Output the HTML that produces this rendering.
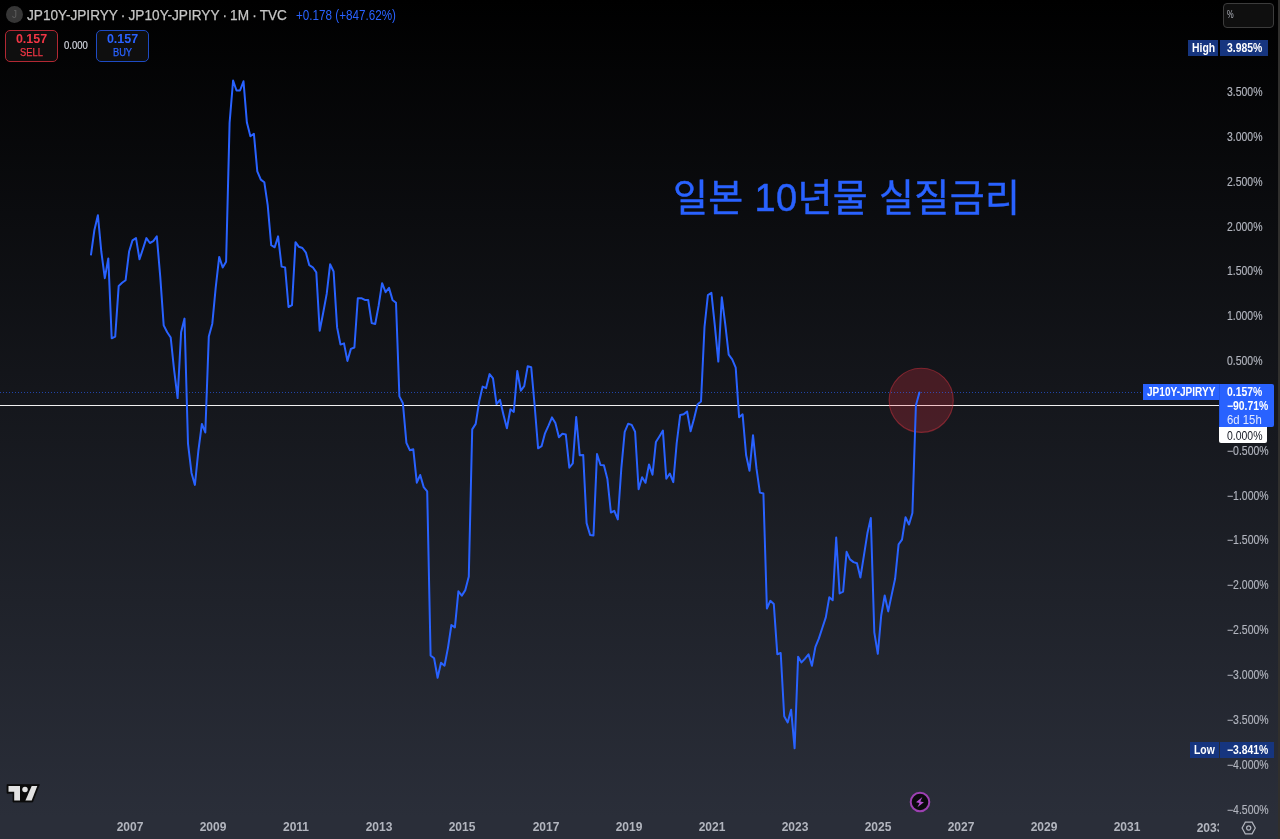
<!DOCTYPE html>
<html lang="ko">
<head>
<meta charset="utf-8">
<title>JP10Y-JPIRYY · 1M · TVC</title>
<style>
html,body{margin:0;padding:0;}
body{width:1280px;height:839px;overflow:hidden;background:#2a2e39;font-family:"Liberation Sans","Noto Sans CJK KR",sans-serif;}
#chart{position:relative;width:1280px;height:839px;overflow:hidden;background:linear-gradient(to bottom,#000000 0px,#2a2e39 816px,#2a2e39 839px);}
#chart svg{position:absolute;left:0;top:0;}
.abs{position:absolute;white-space:nowrap;line-height:1;}
.strip{left:1278px;top:0;width:2px;height:839px;background:#302f2d;}
/* legend */
.sym-ico{left:6px;top:6px;width:17px;height:17px;border-radius:50%;background:#363636;color:#5e5e5e;font-size:10px;line-height:17px;text-align:center;}
.ttl{left:27px;top:7px;font-size:15px;line-height:15px;color:#c6c6c6;transform-origin:0 50%;transform:scaleX(0.909);word-spacing:-0.7px;-webkit-text-stroke:0.25px #c6c6c6;}
.chg{left:296px;top:7.5px;font-size:14px;line-height:14px;color:#2962ff;transform-origin:0 50%;transform:scaleX(0.834);}
.btn{top:30px;width:51px;height:30px;border-radius:5px;border:1px solid;background:#0f0f0f;text-align:center;}
.btn b{display:block;font-size:12px;line-height:12px;margin-top:2px;font-weight:bold;transform:scaleX(1.04);}
.btn span{display:block;font-size:10px;line-height:10px;margin-top:3px;transform:scaleX(0.93);-webkit-text-stroke:0.25px currentColor;}
.sell{left:5px;border-color:#b22833;color:#f23645;}
.buy{left:96px;border-color:#1e4bc4;color:#2962ff;}
.spread{left:64px;top:41px;font-size:10px;line-height:10px;color:#d1d4dc;transform-origin:0 50%;transform:scaleX(0.95);-webkit-text-stroke:0.2px #d1d4dc;}
/* axis */
.pbox{left:1223px;top:3px;width:49px;height:23px;border:1px solid #3c3c3c;border-radius:4px;background:#0f0f0f;}
.pbox span{position:absolute;left:3px;top:5px;font-size:11px;line-height:11px;color:#b2b5be;transform-origin:0 50%;transform:scaleX(0.68);}
.pl{left:1227px;font-size:12px;line-height:12px;color:#b2b5be;-webkit-text-stroke:0.15px #b2b5be;transform-origin:0 50%;transform:scaleX(0.872);}
.tl{top:821px;width:60px;margin-left:-29px;text-align:center;font-size:12px;line-height:12px;color:#b2b5be;font-weight:bold;}
.tl span{display:inline-block;transform:scaleX(1.0);}
.tag{height:16px;font-size:12px;line-height:16px;color:#fff;font-weight:bold;overflow:hidden;}
.tag span{display:inline-block;transform-origin:0 50%;transform:scaleX(0.865);}
.hl{background:#16357f;}
.cur{background:#2962ff;}
.title{left:673px;top:178px;font-size:38px;line-height:40px;letter-spacing:0.35px;-webkit-text-stroke:0.45px #2962ff;color:#2962ff;font-family:"Liberation Sans","Noto Sans CJK KR",sans-serif;}
</style>
</head>
<body>
<div id="chart">
<svg width="1280" height="839" viewBox="0 0 1280 839">
  <rect x="0" y="405" width="1219" height="1" fill="#f0f0f0"/>
  <circle cx="921.2" cy="400.3" r="32.1" fill="rgba(242,54,69,0.23)" stroke="rgba(242,54,69,0.42)" stroke-width="1.1"/>
  <line x1="0" y1="392.5" x2="1143" y2="392.5" stroke="#2962ff" stroke-width="1" stroke-dasharray="1 2" opacity="0.62"/>
  <polyline fill="none" stroke="#2962ff" stroke-width="2" stroke-linejoin="round" stroke-linecap="round" points="91.0,254.6 94.4,230.0 97.9,215.3 101.3,251.5 104.8,278.2 108.3,258.4 111.7,338.3 115.2,336.6 118.7,285.9 122.1,282.8 125.6,280.2 129.1,251.5 132.5,240.4 136.0,238.1 139.5,259.3 142.9,249.0 146.4,238.1 149.9,243.0 153.3,241.2 156.8,236.4 160.3,277.3 163.7,325.4 167.2,332.3 170.7,337.5 174.1,369.8 177.6,398.1 181.1,332.3 184.5,318.6 188.0,443.7 191.5,472.9 194.9,484.9 198.4,450.5 201.9,423.9 205.3,432.5 208.8,336.6 212.3,323.7 215.7,287.6 219.2,256.9 222.7,267.5 226.1,261.7 229.6,122.6 233.1,80.5 236.5,90.5 240.0,90.5 243.5,81.3 246.9,122.6 250.4,136.3 253.9,133.8 257.3,171.4 260.8,179.6 264.3,182.2 267.7,205.2 271.2,245.1 274.7,247.3 278.1,236.4 281.6,266.6 285.1,267.4 288.5,307.0 292.0,305.1 295.5,242.2 298.9,246.8 302.4,248.0 305.9,252.6 309.3,265.2 312.8,267.3 316.3,272.4 319.7,330.8 323.2,312.8 326.7,293.9 330.1,264.3 333.6,271.5 337.1,327.4 340.5,344.6 344.0,343.4 347.4,360.9 350.9,348.9 354.4,347.5 357.8,298.2 361.3,298.2 364.8,299.9 368.2,299.9 371.7,323.1 375.2,324.0 378.6,305.9 382.1,283.2 385.6,292.2 389.0,287.9 392.5,299.9 396.0,302.8 399.4,396.4 402.9,403.3 406.4,442.8 409.8,450.2 413.3,449.3 416.8,482.7 420.2,475.0 423.7,487.1 427.2,491.4 430.6,655.4 434.1,658.3 437.6,677.7 441.0,662.7 444.5,665.7 448.0,647.6 451.4,625.0 454.9,627.4 458.4,591.3 461.8,595.6 465.3,590.1 468.8,576.4 472.2,429.4 475.7,423.9 479.2,401.5 482.6,386.6 486.1,388.1 489.6,374.1 493.0,378.4 496.5,404.1 500.0,399.8 503.4,414.4 506.9,428.2 510.4,409.3 513.8,411.9 517.3,371.0 520.8,390.7 524.2,386.1 527.7,366.3 531.2,367.2 534.6,405.0 538.1,448.3 541.6,446.2 545.0,433.3 548.5,425.6 552.0,417.4 555.4,423.0 558.9,437.3 562.4,433.8 565.8,434.5 569.3,467.7 572.8,463.4 576.2,417.0 579.7,455.2 583.2,454.9 586.6,523.1 590.1,535.0 593.5,535.4 597.0,454.0 600.5,465.0 603.9,465.3 607.4,479.0 610.9,512.5 614.3,510.8 617.8,519.4 621.3,468.7 624.7,431.8 628.2,423.7 631.7,424.9 635.1,431.8 638.6,489.3 642.1,477.3 645.5,482.8 649.0,464.4 652.5,474.7 655.9,442.1 659.4,436.4 662.9,430.6 666.3,478.7 669.8,473.5 673.3,482.1 676.7,443.0 680.2,415.0 683.7,414.3 687.1,411.5 690.6,431.3 694.1,418.6 697.5,404.6 701.0,401.5 704.5,327.0 707.9,295.1 711.4,292.9 714.9,326.4 718.3,361.6 721.8,297.2 725.3,324.7 728.7,354.7 732.2,359.4 735.7,367.6 739.1,417.3 742.6,414.3 746.1,455.0 749.5,470.8 753.0,435.2 756.5,468.7 759.9,492.6 763.4,493.5 766.9,608.5 770.3,600.8 773.8,604.1 777.3,654.3 780.7,653.0 784.2,716.2 787.7,722.5 791.1,709.7 794.6,748.3 798.1,656.7 801.5,662.4 805.0,658.6 808.5,654.3 811.9,665.8 815.4,646.9 818.9,638.4 822.3,628.0 825.8,617.4 829.3,597.2 832.7,600.3 836.2,537.6 839.6,593.4 843.1,591.7 846.6,551.8 850.0,559.4 853.5,562.1 857.0,563.3 860.4,577.6 863.9,555.6 867.4,533.3 870.8,518.1 874.3,632.3 877.8,653.8 881.2,615.5 884.7,595.5 888.2,611.4 891.6,595.1 895.1,578.8 898.6,544.4 902.0,539.6 905.5,517.3 909.0,524.5 912.4,513.0 915.9,405.4 919.4,392.4"/>
  <!-- TradingView logo -->
  <g>
    <path d="M7 784.6 H39.4 L32.6 802 H13 V793.2 H7 Z" fill="#0b0b0b" stroke="#0b0b0b" stroke-width="0.8" stroke-linejoin="round"/>
    <path d="M8.5 786 H20 V800.4 H14.2 V791.7 H8.5 Z" fill="#e2e2e2"/>
    <circle cx="25" cy="789.4" r="2.75" fill="#e2e2e2"/>
    <path d="M31.7 786 H37.3 L31.7 800.4 H25.4 Z" fill="#e2e2e2"/>
  </g>
  <!-- flash icon -->
  <g transform="translate(920,802)">
    <circle r="9.3" fill="#0a0a0c" stroke="#9d40b2" stroke-width="2"/>
    <path d="M2.4 -5.1 L-4 0.3 L-0.5 0.9 L-2.6 5.2 L3.9 0.3 L0.3 -0.6 Z" fill="#b550d0"/>
  </g>
  <!-- settings hexagon -->
  <g transform="translate(1248.7,828)" fill="none" stroke="#b2b5be" stroke-width="1.2">
    <path d="M-6.6 0 L-3.4 -5.8 H3.4 L6.6 0 L3.4 5.8 H-3.4 Z"/>
    <circle r="2.1"/>
  </g>
</svg>
<div class="abs strip"></div>

<div class="abs sym-ico">J</div>
<div class="abs ttl">JP10Y-JPIRYY · JP10Y-JPIRYY · 1M · TVC</div>
<div class="abs chg">+0.178 (+847.62%)</div>
<div class="abs btn sell"><b>0.157</b><span>SELL</span></div>
<div class="abs spread">0.000</div>
<div class="abs btn buy"><b>0.157</b><span>BUY</span></div>

<div class="abs pbox"><span>%</span></div>

<div class="abs tag hl" style="left:1188px;top:40px;width:30px;"><span style="margin-left:4px">High</span></div>
<div class="abs tag hl" style="left:1220px;top:40px;width:48px;"><span style="margin-left:7px">3.985%</span></div>

<div class="abs pl" style="top:86.0px">3.500%</div>
<div class="abs pl" style="top:130.8px">3.000%</div>
<div class="abs pl" style="top:175.7px">2.500%</div>
<div class="abs pl" style="top:220.5px">2.000%</div>
<div class="abs pl" style="top:265.4px">1.500%</div>
<div class="abs pl" style="top:310.2px">1.000%</div>
<div class="abs pl" style="top:355.1px">0.500%</div>
<div class="abs pl" style="top:444.8px">−0.500%</div>
<div class="abs pl" style="top:489.6px">−1.000%</div>
<div class="abs pl" style="top:534.4px">−1.500%</div>
<div class="abs pl" style="top:579.3px">−2.000%</div>
<div class="abs pl" style="top:624.1px">−2.500%</div>
<div class="abs pl" style="top:669.0px">−3.000%</div>
<div class="abs pl" style="top:713.9px">−3.500%</div>
<div class="abs pl" style="top:758.7px">−4.000%</div>
<div class="abs pl" style="top:803.6px">−4.500%</div>

<div class="abs tag cur" style="left:1143px;top:384px;width:76px;"><span style="margin-left:4px;transform:scaleX(0.838)">JP10Y-JPIRYY</span></div>
<div class="abs cur" style="left:1219px;top:384px;width:55px;height:43px;border-radius:0 2px 2px 0;box-shadow:inset 1px 0 0 #2257e6;"></div>
<div class="abs tag" style="left:1227px;top:384px;"><span>0.157%</span></div>
<div class="abs tag" style="left:1227px;top:398px;"><span>−90.71%</span></div>
<div class="abs tag" style="left:1227px;top:411.5px;font-weight:normal;color:#e3e9ff"><span style="transform:scaleX(0.945)">6d 15h</span></div>
<div class="abs tag" style="left:1219px;top:427px;width:48px;height:16.3px;line-height:18.5px;background:#fff;color:#131722;font-weight:normal;font-size:12px;border-radius:0 0 2px 2px;"><span style="margin-left:8px;transform:scaleX(0.872)">0.000%</span></div>

<div class="abs tag hl" style="left:1190px;top:742px;width:29px;"><span style="margin-left:4px">Low</span></div>
<div class="abs tag hl" style="left:1220px;top:742px;width:54px;"><span style="margin-left:7px">−3.841%</span></div>

<div class="abs tl" style="left:129px"><span>2007</span></div>
<div class="abs tl" style="left:212px"><span>2009</span></div>
<div class="abs tl" style="left:295px"><span>2011</span></div>
<div class="abs tl" style="left:378px"><span>2013</span></div>
<div class="abs tl" style="left:461px"><span>2015</span></div>
<div class="abs tl" style="left:545px"><span>2017</span></div>
<div class="abs tl" style="left:628px"><span>2019</span></div>
<div class="abs tl" style="left:711px"><span>2021</span></div>
<div class="abs tl" style="left:794px"><span>2023</span></div>
<div class="abs tl" style="left:877px"><span>2025</span></div>
<div class="abs tl" style="left:960px"><span>2027</span></div>
<div class="abs tl" style="left:1043px"><span>2029</span></div>
<div class="abs tl" style="left:1126px"><span>2031</span></div>
<div class="abs" style="left:1179px;top:816px;width:40px;height:23px;overflow:hidden;"><div class="abs tl" style="left:30px;top:6px"><span>2033</span></div></div>

<div class="abs title">일본 10년물 실질금리</div>
</div>
</body>
</html>
